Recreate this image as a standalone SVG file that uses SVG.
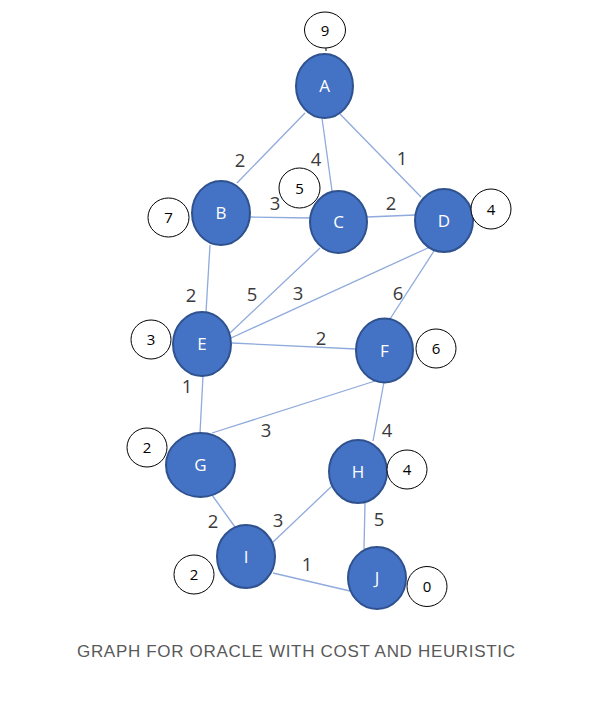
<svg xmlns="http://www.w3.org/2000/svg" width="603" height="706" viewBox="0 0 603 706">
<style>
.edge{stroke:#8FAADC;stroke-width:1.3;fill:none}
.node{fill:#4472C4;stroke:#2F528F;stroke-width:2}
.nl{fill:#ffffff;font-family:"Open Sans",Lato,"Liberation Sans",sans-serif;font-size:17px;text-anchor:middle}
.h{fill:#ffffff;stroke:#000000;stroke-width:1}
.ht{fill:#000000;font-family:"Open Sans",Lato,"Liberation Sans",sans-serif;font-size:15px;text-anchor:middle}
.el{fill:#3a3a3a;font-family:"Open Sans",Lato,"Liberation Sans",sans-serif;font-size:18.5px;text-anchor:middle}
.cap{fill:#595959;font-family:"Liberation Sans",Arial,sans-serif;font-size:17px;text-anchor:middle}
</style>
<rect width="603" height="706" fill="#ffffff"/>
<g id="connectors">
<line class="edge" x1="305" y1="113" x2="237" y2="183"/>
<line class="edge" x1="322" y1="118" x2="332" y2="191"/>
<line class="edge" x1="340" y1="114" x2="421" y2="197"/>
<line class="edge" x1="250" y1="217" x2="310" y2="218"/>
<line class="edge" x1="367" y1="217" x2="415" y2="215"/>
<line class="edge" x1="210" y1="245" x2="206" y2="312"/>
<line class="edge" x1="320" y1="248" x2="230" y2="333"/>
<line class="edge" x1="430" y1="247" x2="231" y2="338"/>
<line class="edge" x1="232" y1="343" x2="356" y2="349"/>
<line class="edge" x1="434" y1="251" x2="390" y2="319"/>
<line class="edge" x1="203" y1="376" x2="200" y2="433"/>
<line class="edge" x1="375" y1="381" x2="212" y2="433"/>
<line class="edge" x1="384" y1="382" x2="373" y2="441"/>
<line class="edge" x1="212" y1="495" x2="235" y2="527"/>
<line class="edge" x1="333" y1="485" x2="272" y2="543"/>
<line class="edge" x1="365" y1="503" x2="364" y2="549"/>
<line class="edge" x1="273" y1="573" x2="350" y2="591"/>
</g>
<g id="edge-labels">
<text class="el" x="240" y="167">2</text>
<text class="el" x="316" y="166">4</text>
<text class="el" x="402" y="165">1</text>
<text class="el" x="275" y="210">3</text>
<text class="el" x="391" y="210">2</text>
<text class="el" x="191" y="302">2</text>
<text class="el" x="252" y="301">5</text>
<text class="el" x="298" y="300">3</text>
<text class="el" x="398" y="300">6</text>
<text class="el" x="321" y="345">2</text>
<text class="el" x="187" y="393">1</text>
<text class="el" x="266" y="437">3</text>
<text class="el" x="387" y="437">4</text>
<text class="el" x="213" y="528">2</text>
<text class="el" x="278" y="527">3</text>
<text class="el" x="379" y="526">5</text>
<text class="el" x="307" y="571">1</text>
</g>
<g id="node-A"><ellipse class="node" cx="324.5" cy="86" rx="28.5" ry="32"/><text class="nl" x="324.5" y="92">A</text>
<ellipse class="h" cx="325" cy="30" rx="20.5" ry="18"/><line x1="326" y1="48" x2="326" y2="51" stroke="#000" stroke-width="1"/><text class="ht" x="325" y="35.5">9</text></g>
<g id="node-B"><ellipse class="node" cx="221" cy="213" rx="29" ry="32"/><text class="nl" x="221" y="219">B</text>
<ellipse class="h" cx="168.5" cy="217.5" rx="20.5" ry="19.5"/><text class="ht" x="168.5" y="223">7</text></g>
<g id="node-C"><ellipse class="node" cx="338.5" cy="222" rx="28.5" ry="31"/><text class="nl" x="338.5" y="228">C</text>
<ellipse class="h" cx="299.5" cy="188" rx="20.5" ry="20"/><text class="ht" x="299.5" y="193.5">5</text></g>
<g id="node-D"><ellipse class="node" cx="444" cy="220.5" rx="29" ry="31.5"/><text class="nl" x="444" y="226.5">D</text>
<ellipse class="h" cx="491" cy="209" rx="20" ry="20"/><text class="ht" x="491" y="214.5">4</text></g>
<g id="node-E"><ellipse class="node" cx="202" cy="344" rx="29" ry="32"/><text class="nl" x="202" y="350">E</text>
<ellipse class="h" cx="151" cy="339.5" rx="20" ry="19.5"/><text class="ht" x="151" y="345">3</text></g>
<g id="node-F"><ellipse class="node" cx="384.5" cy="350.5" rx="28.5" ry="32"/><text class="nl" x="384.5" y="356.5">F</text>
<ellipse class="h" cx="436" cy="348.5" rx="20" ry="19.5"/><text class="ht" x="436" y="354">6</text></g>
<g id="node-G"><ellipse class="node" cx="200.5" cy="465" rx="34.5" ry="32"/><text class="nl" x="200.5" y="471">G</text>
<ellipse class="h" cx="147" cy="447.5" rx="20" ry="19.5"/><text class="ht" x="147" y="453">2</text></g>
<g id="node-H"><ellipse class="node" cx="358" cy="471.5" rx="29" ry="31.5"/><text class="nl" x="358" y="477.5">H</text>
<ellipse class="h" cx="407" cy="469.5" rx="20" ry="19.5"/><text class="ht" x="407" y="475">4</text></g>
<g id="node-I"><ellipse class="node" cx="246" cy="556.5" rx="29" ry="31.5"/><text class="nl" x="246" y="562.5">I</text>
<ellipse class="h" cx="194" cy="574.5" rx="20" ry="19.5"/><text class="ht" x="194" y="580">2</text></g>
<g id="node-J"><ellipse class="node" cx="377" cy="578" rx="29" ry="31"/><text class="nl" x="377" y="584">J</text>
<ellipse class="h" cx="427" cy="586.5" rx="20" ry="20"/><text class="ht" x="427" y="592">0</text></g>
<text class="cap" x="296" y="657" textLength="438" lengthAdjust="spacing">GRAPH FOR ORACLE WITH COST AND HEURISTIC</text>
</svg>
